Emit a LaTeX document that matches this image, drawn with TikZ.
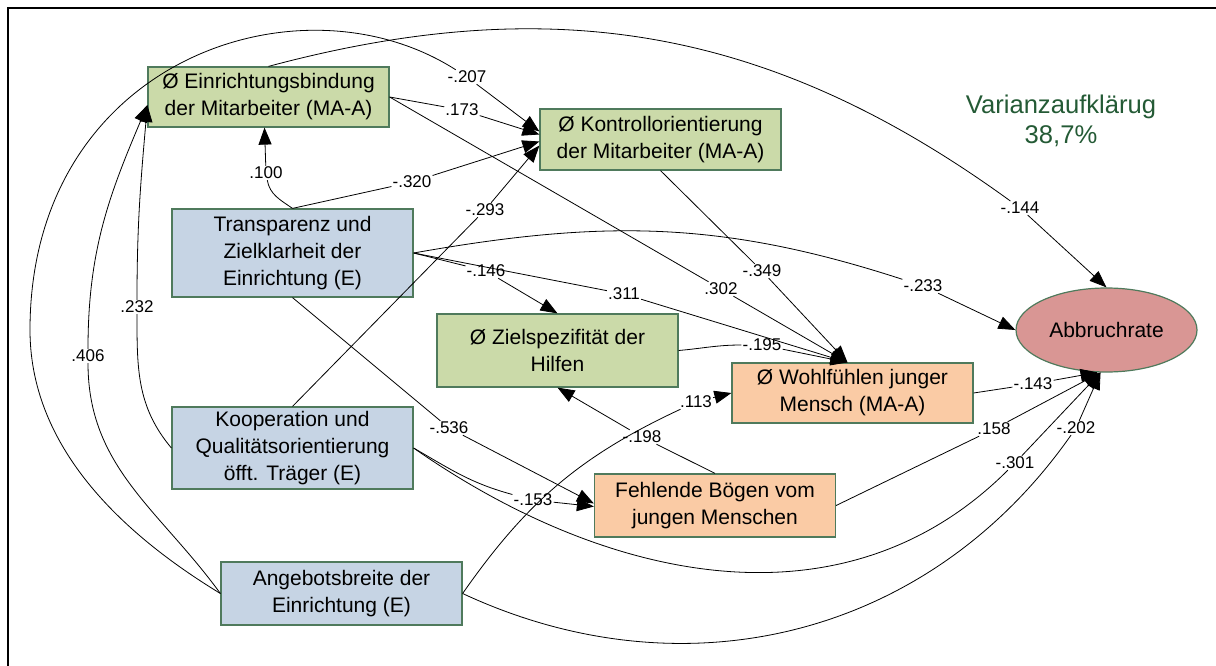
\documentclass[tikz,border=0pt]{standalone}
\usepackage{fontspec}
\setmainfont{Liberation Sans}
\usetikzlibrary{arrows.meta,shapes.geometric}

\definecolor{boxgreen}{HTML}{CBDAA9}
\definecolor{boxblue}{HTML}{C6D4E4}
\definecolor{boxorange}{HTML}{FACBA5}
\definecolor{ovalred}{HTML}{D99694}
\definecolor{rimgreen}{HTML}{4F7A5C}
\definecolor{textgreen}{HTML}{245A35}

\begin{document}
\begin{tikzpicture}[x=1pt,y=-1pt,
  box/.style={draw=rimgreen,line width=1.2pt,minimum width=241pt,inner sep=0pt,align=center,font=\fontsize{21}{27}\selectfont},
  mav/.style={box,fill=boxgreen},
  ext/.style={box,fill=boxblue},
  young/.style={box,fill=boxorange},
  lbl/.style={fill=white,inner sep=1pt,font=\fontsize{17}{20}\selectfont},
  conn/.style={line width=0.8pt,-{Triangle[length=17pt,width=13pt]}}]
  \useasboundingbox (0,0) rectangle (1216,666);
  \draw[line width=2.5pt] (8,666) -- (8,8) -- (1216,8);

  \node[mav,minimum height=60pt] (einb) at (268.5,97) {Ø Einrichtungsbindung\\der Mitarbeiter (MA-A)};
  \node[mav,minimum height=61pt] (kontr) at (660.5,139.5) {Ø Kontrollorientierung\\der Mitarbeiter (MA-A)};
  \node[ext,minimum height=88pt] (transp) at (292.5,253) {Transparenz und\\Zielklarheit der\\Einrichtung (E)};
  \node[ext,minimum height=82pt] (koop) at (292.5,448) {Kooperation und\\Qualitätsorientierung\\öfft. Träger (E)};
  \node[ext,minimum height=63pt] (angeb) at (341.5,593.5) {Angebotsbreite der\\Einrichtung (E)};
  \node[mav,minimum height=73pt] (ziel) at (557.5,350.5) {Ø Zielspezifität der\\Hilfen};
  \node[young,minimum height=60pt] (wohl) at (852.5,393) {Ø Wohlfühlen junger\\Mensch (MA-A)};
  \node[young,minimum height=63pt] (fehl) at (715,505.5) {Fehlende Bögen vom\\jungen Menschen};
  \node[ellipse,draw=rimgreen,line width=1.2pt,fill=ovalred,minimum width=181pt,minimum height=84pt,inner sep=0pt,
    font=\fontsize{21}{27}\selectfont] (abbr) at (1106.5,330) {Abbruchrate};
  \node[align=center,text=textgreen,font=\fontsize{25.6}{30}\selectfont] (varz) at (1061,121) {Varianzaufklärug\\38,7\%};

  % path coefficients
  \node[lbl] (l207) at (467,77) {-.207};
  \node[lbl] (l173) at (462,110) {.173};
  \node[lbl] (l320) at (412,182) {-.320};
  \node[lbl] (l293) at (485,210) {-.293};
  \node[lbl] (l100) at (266,173) {.100};
  \node[lbl] (l232) at (137,307) {.232};
  \node[lbl] (l406) at (88,356) {.406};
  \node[lbl] (l146) at (486,271) {-.146};
  \node[lbl] (l311) at (624,294) {.311};
  \node[lbl] (l302) at (721,289) {.302};
  \node[lbl] (l349) at (762,271) {-.349};
  \node[lbl] (l195) at (762,345) {-.195};
  \node[lbl] (l113) at (696,402) {.113};
  \node[lbl] (l198) at (642,437) {-.198};
  \node[lbl] (l536) at (449,428) {-.536};
  \node[lbl] (l153) at (533,500) {-.153};
  \node[lbl] (l233) at (923,286) {-.233};
  \node[lbl] (l144) at (1020,208) {-.144};
  \node[lbl] (l143) at (1033,384) {-.143};
  \node[lbl] (l158) at (994,429) {.158};
  \node[lbl] (l202) at (1076,428) {-.202};
  \node[lbl] (l301) at (1015,463) {-.301};
  \coordinate (wl) at (30,330);

  \draw[conn] (angeb.west) .. controls (111,527) and (30,440) .. (wl)
    .. controls (30,60) and (300,-30) .. (l207) -- ([yshift=8pt]kontr.west);
  \draw[conn] (angeb.west) to[out=126,in=-90] (l406) to[out=90,in=-113] ([yshift=-8pt]einb.west);
  \draw[conn] (koop.west) to[out=130,in=-90] (l232) to[out=90,in=-95] ([yshift=-8pt]einb.west);
  \draw[conn] (transp.north) to[out=145,in=-80] (l100) -- ([xshift=-4pt]einb.south);
  \draw[conn] (einb.east) -- (l173) -- ([yshift=5pt]kontr.west);
  \draw[conn] (transp.north) -- (l320) -- ([yshift=-2pt]kontr.west);
  \draw[conn] (koop.north) -- (l293) -- ([yshift=-6pt]kontr.west);
  \draw[conn] (einb.east) -- (l302) -- ([xshift=-5pt]wohl.north);
  \draw[conn] (kontr.south) -- (l349) -- ([xshift=-5pt]wohl.north);
  \draw[conn] (transp.east) -- (l146) -- (ziel.north);
  \draw[conn] (transp.east) -- (l311) -- ([xshift=-5pt]wohl.north);
  \draw[conn] (transp.east) to[out=10,in=162] (l233) -- (abbr.west);
  \draw[conn] (ziel.east) to[out=5,in=180] (l195) -- ([xshift=-5pt]wohl.north);
  \draw[conn] (fehl.north) -- (l198) -- (ziel.south);
  \draw[conn] (angeb.east) to[out=55,in=-155] (l113) -- (wohl.west);
  \draw[conn] (transp.south) -- (l536) -- ([yshift=2pt]fehl.west);
  \draw[conn] (koop.east) to[out=-30,in=165] (l153) -- ([yshift=-1pt]fehl.west);
  \draw[conn] (koop.east) to[out=-35,in=-135] (l301) -- (abbr.262);
  \draw[conn] (angeb.east) to[out=-25,in=-125] (l202) -- (abbr.262);
  \draw[conn] (wohl.east) -- (l143) -- (abbr.258);
  \draw[conn] (fehl.east) -- (l158) -- (abbr.262);
  \draw[conn] (einb.north) to[out=15,in=144] (l144) -- (abbr.north);
\end{tikzpicture}
\end{document}
